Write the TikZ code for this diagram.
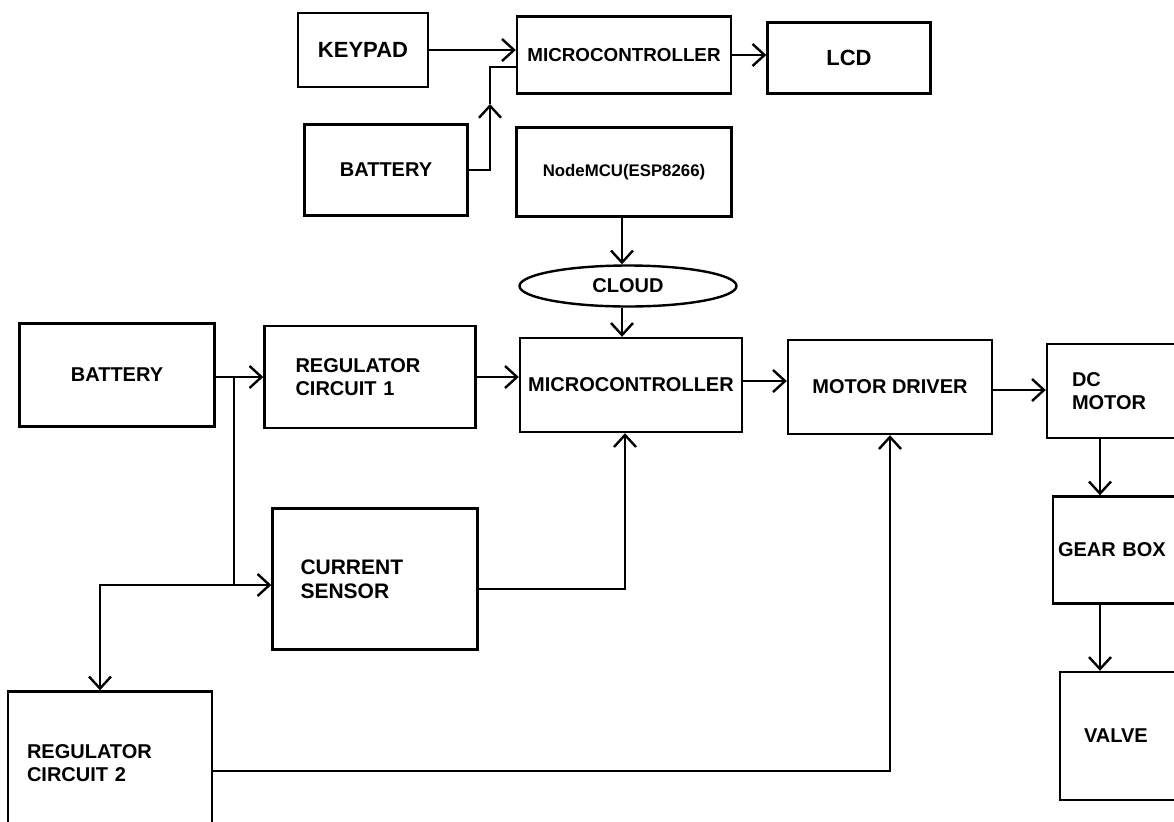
\documentclass[tikz,border=0pt]{standalone}
\usepackage{fontspec}
\setmainfont{Liberation Sans}
\usetikzlibrary{arrows.meta,positioning,shapes.geometric}
\tikzset{
  blockbox/.style={draw=black,line width=1.2pt,align=center,inner sep=2pt,font=\bfseries\fontsize{10}{11.5}\selectfont},
  leftbox/.style={blockbox,align=left},
  cloudnode/.style={draw=black,line width=1.2pt,ellipse,inner sep=0pt,font=\bfseries\fontsize{10}{11.5}\selectfont},
  arrow/.style={-{Straight Barb[length=6pt,width=11pt]},line width=1.2pt},
  wire/.style={line width=1.2pt}
}
\begin{document}
\begin{tikzpicture}[x=0.5pt,y=-0.5pt]
\useasboundingbox (0,0) rectangle (1174,821);
\clip (0,0) rectangle (1174,821);
% top group
\node[blockbox,minimum width=65pt,minimum height=37pt,font=\bfseries\fontsize{11}{13}\selectfont] (keypad) at (363,50) {KEYPAD};
\node[blockbox,minimum width=107pt,minimum height=38.5pt,font=\bfseries\fontsize{9.4}{11}\selectfont] (mcutop) at (624,55) {MICROCONTROLLER};
\node[blockbox,minimum width=81.5pt,minimum height=35.5pt,font=\bfseries\fontsize{11}{13}\selectfont] (lcd) at (849,58) {LCD};
\node[blockbox,minimum width=81.5pt,minimum height=45.5pt] (battop) at (386,170) {BATTERY};
\node[blockbox,minimum width=107.5pt,minimum height=44.5pt,font=\bfseries\fontsize{8.4}{10}\selectfont] (nodemcu) at (624,172) {NodeMCU(ESP8266)};
\node[cloudnode,minimum width=108.5pt,minimum height=20.5pt] (cloud) at (628,286) {CLOUD};
% main row
\node[blockbox,minimum width=97.5pt,minimum height=51.5pt] (bat) at (117,375) {BATTERY};
\node[leftbox,text width=74.5pt,inner xsep=15.5pt,minimum height=51pt] (reg1) at (370,377) {REGULATOR\\CIRCUIT 1};
\node[blockbox,minimum width=111pt,minimum height=47pt] (mcu) at (631,385) {MICROCONTROLLER};
\node[blockbox,minimum width=102pt,minimum height=47pt] (driver) at (890,387) {MOTOR DRIVER};
\node[leftbox,text width=55pt,inner xsep=12.5pt,minimum height=47pt] (motor) at (1127,391) {DC\\MOTOR};
\node[leftbox,text width=65pt,inner xsep=2.5pt,minimum height=53.5pt] (gear) at (1123,550) {GEAR BOX};
\node[leftbox,text width=46pt,inner xsep=12pt,minimum height=64pt] (valve) at (1130,736) {VALVE};
\node[leftbox,text width=74.5pt,inner xsep=14pt,minimum height=70.5pt,font=\bfseries\fontsize{10.5}{12}\selectfont] (sensor) at (375,579) {CURRENT\\SENSOR};
\node[leftbox,text width=83pt,inner xsep=9.5pt,minimum height=71.5pt] (reg2) at (110,763) {REGULATOR\\CIRCUIT 2};
% junctions
\coordinate (bjoin) at (490,104);
\coordinate (split) at (234,585);
% connectors, top group
\draw[arrow] (keypad.east) -- (keypad.east -| mcutop.west);
\draw[arrow] (battop.east) -| (bjoin);
\draw[wire] (bjoin) |- ([yshift=-6pt]mcutop.west);
\draw[arrow] (mcutop.east) -- (mcutop.east -| lcd.west);
\draw[arrow] ([xshift=-1pt]nodemcu.south) -- ([xshift=-1pt]nodemcu.south |- cloud.north);
\draw[arrow] ([xshift=-3pt]cloud.south) -- ([xshift=-3pt]cloud.south |- mcu.north);
% connectors, main row
\draw[arrow] ([yshift=-1pt]bat.east) -- ([yshift=-1pt]bat.east -| reg1.west);
\draw[wire] ([yshift=-1pt]bat.east -| split) -- (split);
\draw[arrow] (split) -- (split -| sensor.west);
\draw[arrow] (split) -| ([xshift=-5pt]reg2.north);
\draw[arrow] (reg1.east) -- (reg1.east -| mcu.west);
\draw[arrow] ([yshift=-5pt]sensor.east) -| ([xshift=-3pt]mcu.south);
\draw[arrow] ([yshift=2pt]mcu.east) -- ([yshift=2pt]mcu.east -| driver.west);
\draw[arrow] ([yshift=-1.5pt]driver.east) -- ([yshift=-1.5pt]driver.east -| motor.west);
\draw[arrow] ([yshift=-4pt]reg2.east) -| (driver.south);
\draw[arrow] ([xshift=-13.5pt]motor.south) -- ([xshift=-13.5pt]motor.south |- gear.north);
\draw[arrow] ([xshift=-11.5pt]gear.south) -- ([xshift=-11.5pt]gear.south |- valve.north);
\end{tikzpicture}
\end{document}
